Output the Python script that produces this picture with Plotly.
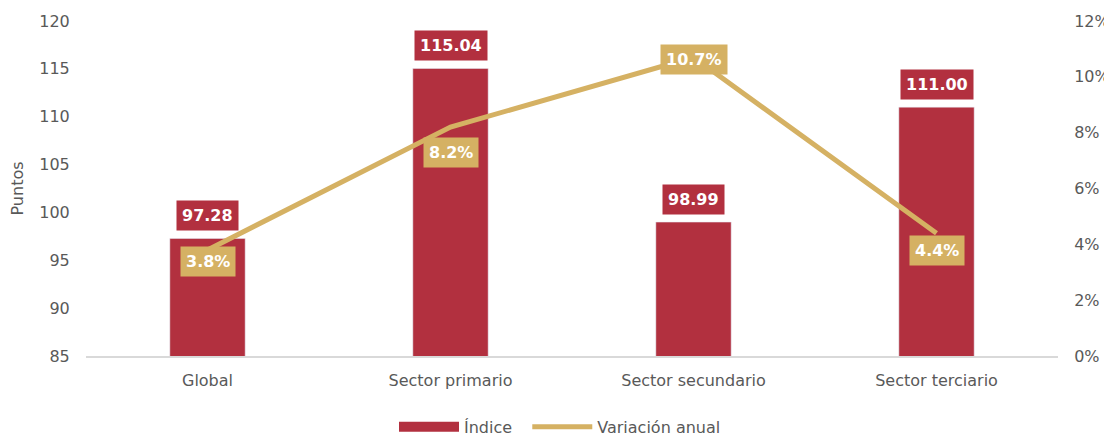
import plotly.graph_objects as go

categories = ["Global", "Sector primario", "Sector secundario", "Sector terciario"]
indice = [97.28, 115.04, 98.99, 111.00]
variacion = [3.8, 8.2, 10.7, 4.4]  # percent

BAR = "#B2303F"
GOLD = "#D5B163"
FONT = "DejaVu Sans"
GRAY = "#595959"

fig = go.Figure()
fig.add_trace(go.Bar(x=categories, y=indice, name="Índice", marker_color=BAR,
                     width=0.31, yaxis="y", showlegend=False))
# legend-only entry drawn as wide swatch
fig.add_trace(go.Scatter(x=[None], y=[None], name="Índice  ", mode="lines",
                         line=dict(color=BAR, width=11), yaxis="y"))
fig.add_trace(go.Scatter(x=categories, y=[v / 100 for v in variacion], name="Variación anual",
                         mode="lines", line=dict(color=GOLD, width=5), yaxis="y2"))

for c, v in zip(categories, indice):
    fig.add_annotation(x=c, y=v, xref="x", yref="y", text=f"<b>{v:.2f}</b>",
                       showarrow=False, yshift=23, bgcolor=BAR, borderpad=5,
                       font=dict(family=FONT, size=16, color="white"))
line_shift = [-12, -25, -2, -17]
for c, v, s in zip(categories, variacion, line_shift):
    fig.add_annotation(x=c, y=v / 100, xref="x", yref="y2", text=f"<b>{v:.1f}%</b>",
                       showarrow=False, yshift=s, bgcolor=GOLD, borderpad=5,
                       font=dict(family=FONT, size=16, color="white"))

# page has an 8px body margin: size/margins compensate for it
fig.update_layout(
    width=1104, height=431,
    margin=dict(l=78, r=54, t=13, b=83, autoexpand=False),
    plot_bgcolor="white", paper_bgcolor="white",
    font=dict(family=FONT, size=16, color=GRAY),
    showlegend=True,
    legend=dict(orientation="h", x=0.5, xanchor="center", xref="container",
                y=0.028, yanchor="middle", yref="container",
                font=dict(size=16, color=GRAY), itemwidth=60, tracegroupgap=0),
    xaxis=dict(showline=True, linecolor="#D9D9D9", linewidth=2, ticks="outside",
               ticklen=9, tickcolor="rgba(0,0,0,0)",
               tickfont=dict(size=16, color=GRAY), showgrid=False, automargin=False),
    yaxis=dict(range=[85, 120], dtick=5, showgrid=False, zeroline=False, automargin=False,
               title=dict(text="Puntos", font=dict(size=16, color=GRAY), standoff=14),
               tickfont=dict(size=16, color=GRAY), ticks="outside", ticklen=12,
               tickcolor="rgba(0,0,0,0)"),
    yaxis2=dict(range=[0, 0.12], dtick=0.02, tickformat=".0%", overlaying="y", side="right",
                showgrid=False, zeroline=False, automargin=False,
                tickfont=dict(size=16, color=GRAY), ticks="outside", ticklen=12,
                tickcolor="rgba(0,0,0,0)"),
)

fig.write_html("out.html")
